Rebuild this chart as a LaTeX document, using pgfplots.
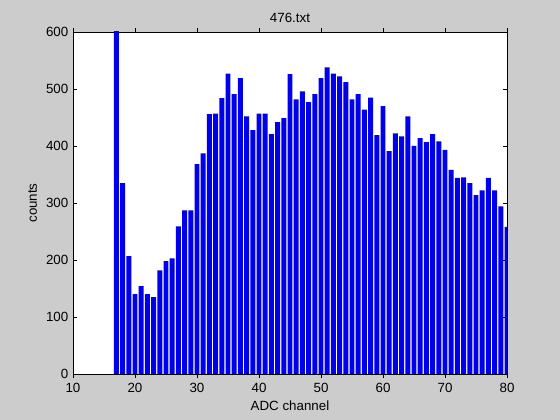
\documentclass[border=0pt]{standalone}
\usepackage{fontspec}
\setmainfont{Liberation Sans}
\usepackage{pgfplots}
\pgfplotsset{compat=1.18}
\definecolor{mgray}{RGB}{204,204,204}
\definecolor{mblue}{RGB}{0,0,235}
\begin{document}
\begin{tikzpicture}
\fill[mgray] (0,0) rectangle (420pt,315pt);
\begin{axis}[
  at={(54.75pt,34.5pt)}, anchor=south west,
  scale only axis, width=325.5pt, height=256.5pt,
  xmin=10, xmax=80, ymin=0, ymax=600,
  xtick={10,20,...,80}, ytick={0,100,...,600},
  tick align=inside, tick pos=both, major tick length=3pt,
  axis background/.style={fill=white},
  axis line style={black, line width=0.5pt},
  every tick/.style={black, line width=0.5pt},
  /pgf/number format/assume math mode=true,
  tick label style={font=\fontsize{10}{12}\selectfont},
  label style={font=\fontsize{10}{12}\selectfont},
  title style={font=\fontsize{10}{12}\selectfont, yshift=-2.5pt},
  title={476.txt},
  xlabel={ADC channel}, ylabel={counts},
  ybar, bar width=0.8,
]
\addplot[fill=mblue, draw=none] coordinates {
(17,700) (18,335) (19,207) (20,140) (21,154) (22,140) (23,135) (24,182)
(25,198) (26,203) (27,259) (28,287) (29,287) (30,368) (31,387) (32,456)
(33,457) (34,484) (35,527) (36,491) (37,519) (38,452) (39,428) (40,457)
(41,457) (42,421) (43,442) (44,449) (45,526) (46,482) (47,496) (48,477)
(49,491) (50,519) (51,538) (52,527) (53,522) (54,512) (55,482) (56,491)
(57,464) (58,485) (59,419) (60,470) (61,391) (62,422) (63,417) (64,452)
(65,400) (66,414) (67,407) (68,421) (69,408) (70,393) (71,358) (72,344)
(73,345) (74,335) (75,314) (76,322) (77,344) (78,322) (79,294) (80,258)
};
\end{axis}
\end{tikzpicture}
\end{document}
